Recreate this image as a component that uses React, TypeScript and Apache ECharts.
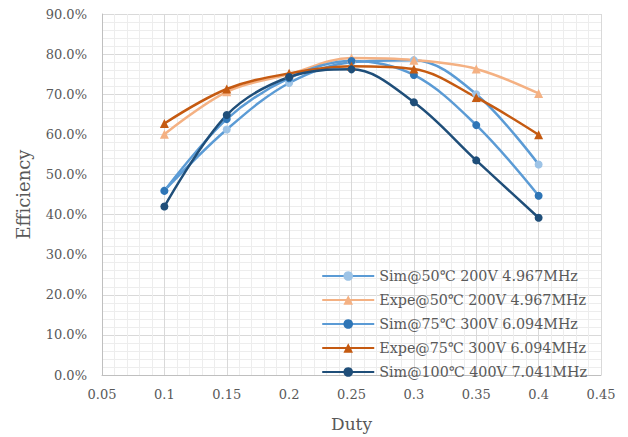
import React, { useEffect, useRef } from "react";
import * as echarts from "echarts";

const duty = [0.1, 0.15, 0.2, 0.25, 0.3, 0.35, 0.4];
const sim50 = [0.46, 0.612, 0.728, 0.78, 0.785, 0.70, 0.525];
const expe50 = [0.60, 0.706, 0.75, 0.79, 0.785, 0.763, 0.702];
const sim75 = [0.459, 0.638, 0.74, 0.783, 0.748, 0.623, 0.447];
const expe75 = [0.627, 0.713, 0.752, 0.77, 0.763, 0.692, 0.599];
const sim100 = [0.42, 0.648, 0.743, 0.762, 0.68, 0.535, 0.392];

const names = [
  "Sim@50℃ 200V 4.967MHz",
  "Expe@50℃ 200V 4.967MHz",
  "Sim@75℃ 300V 6.094MHz",
  "Expe@75℃ 300V 6.094MHz",
  "Sim@100℃ 400V 7.041MHz",
];

const FONT = "DejaVu Serif";

export default function App() {
  const ref = useRef<HTMLDivElement>(null);
  useEffect(() => {
    if (!ref.current) return;
    const chart = echarts.init(ref.current, undefined, { renderer: "svg" });
    const mk = (
      name: string,
      vals: number[],
      lineColor: string,
      markColor: string,
      symbol: string,
      size: number
    ) => ({
      name,
      type: "line",
      data: duty.map((d, i) => [d, vals[i]]),
      smooth: 0.35,
      symbol,
      symbolSize: size,
      lineStyle: { color: lineColor, width: 2.5 },
      itemStyle: { color: markColor },
      z: 3,
    });
    chart.setOption({
      animation: false,
      backgroundColor: "#ffffff",
      grid: { left: 102, right: 27, top: 14, bottom: 60, containLabel: false },
      legend: {
        orient: "vertical",
        right: 36,
        top: 264,
        itemWidth: 52,
        itemHeight: 12,
        itemGap: 10,
        textStyle: { fontFamily: FONT, fontSize: 14.3, color: "#595959" },
        data: names,
      },
      xAxis: {
        type: "value",
        min: 0.05,
        max: 0.45,
        interval: 0.05,
        name: "Duty",
        nameLocation: "middle",
        nameGap: 40,
        nameTextStyle: { fontFamily: FONT, fontSize: 17, color: "#595959" },
        axisLine: { show: true, lineStyle: { color: "#bfbfbf", width: 1 } },
        axisTick: { show: false },
        axisLabel: {
          fontFamily: FONT,
          fontSize: 13,
          color: "#595959",
          margin: 13,
          formatter: (v: number) => String(parseFloat(v.toFixed(2))),
        },
        splitLine: { show: true, lineStyle: { color: "#d9d9d9", width: 1 } },
        minorTick: { show: false, splitNumber: 5 },
        minorSplitLine: { show: true, lineStyle: { color: "#ededed", width: 1 } },
      },
      yAxis: {
        type: "value",
        min: 0,
        max: 0.9,
        interval: 0.1,
        name: "Efficiency",
        nameLocation: "middle",
        nameGap: 70,
        nameTextStyle: { fontFamily: FONT, fontSize: 18, color: "#595959" },
        axisLine: { show: true, lineStyle: { color: "#bfbfbf", width: 1 } },
        axisTick: { show: false },
        axisLabel: {
          fontFamily: FONT,
          fontSize: 13,
          color: "#595959",
          margin: 15,
          formatter: (v: number) => (v * 100).toFixed(1) + "%",
        },
        splitLine: { show: true, lineStyle: { color: "#d9d9d9", width: 1 } },
        minorTick: { show: false, splitNumber: 5 },
        minorSplitLine: { show: true, lineStyle: { color: "#ededed", width: 1 } },
      },
      series: [
        mk(names[0], sim50, "#5b9bd5", "#9dc3e6", "circle", 8),
        mk(names[1], expe50, "#f4b183", "#f4b183", "triangle", 9),
        mk(names[2], sim75, "#5b9bd5", "#2e75b6", "circle", 8),
        mk(names[3], expe75, "#c55a11", "#c55a11", "triangle", 9),
        mk(names[4], sim100, "#1f4e79", "#1f4e79", "circle", 8),
      ],
    });
    return () => chart.dispose();
  }, []);
  return (
    <div
      ref={ref}
      style={{ position: "fixed", left: 0, top: 0, width: 628, height: 437 }}
    />
  );
}
